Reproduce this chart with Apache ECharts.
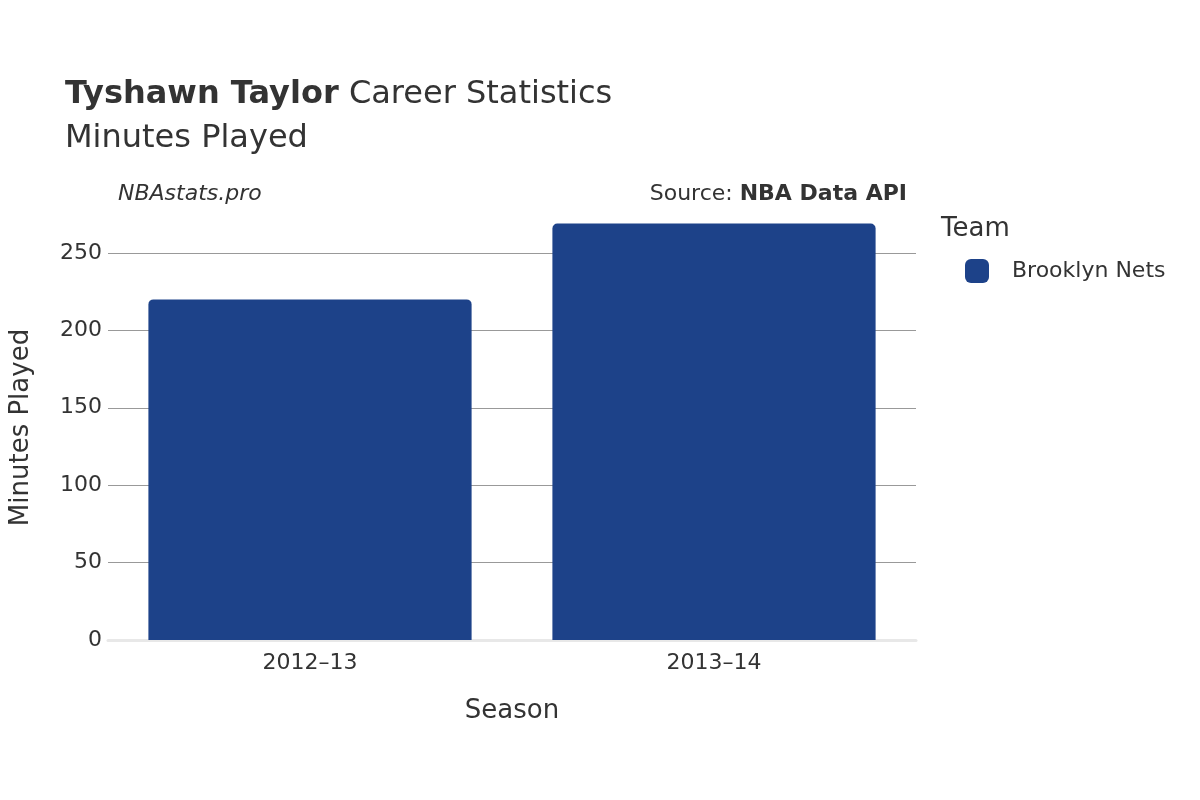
<!DOCTYPE html>
<html>
<head>
<meta charset="utf-8">
<script src="https://cdn.jsdelivr.net/npm/echarts@6/dist/echarts.min.js"></script>
<style>html,body{margin:0;padding:0;background:#fff}#main{width:1200px;height:800px}</style>
</head>
<body>
<div id="main"></div>
<script>
const seasons = ['2012–13', '2013–14'];
const minutes = [220, 269];
const teamName = 'Brooklyn Nets';

const chart = echarts.init(document.getElementById('main'));
const font = 'DejaVu Sans';

const option = {
  backgroundColor: '#fff',
  textStyle: { fontFamily: font },
  title: [
    {
      text: '{b|Tyshawn Taylor} Career Statistics\nMinutes Played',
      left: 60, top: 68,
      textStyle: {
        fontFamily: font, fontSize: 32, color: '#333', fontWeight: 'normal', lineHeight: 44,
        rich: { b: { fontFamily: font, fontSize: 32, fontWeight: 'bold', color: '#333' } }
      }
    },
    {
      text: 'NBAstats.pro', left: 113, top: 178,
      textStyle: { fontFamily: font, fontSize: 22, fontStyle: 'italic', fontWeight: 'normal', color: '#333' }
    },
    {
      text: 'Source: {b|NBA Data API}', right: 288, top: 178,
      textStyle: {
        fontFamily: font, fontSize: 22, fontWeight: 'normal', color: '#333',
        rich: { b: { fontFamily: font, fontSize: 22, fontWeight: 'bold', color: '#333' } }
      }
    },
    {
      text: 'Team', left: 936, top: 211,
      textStyle: { fontFamily: font, fontSize: 26, fontWeight: 'normal', color: '#333' }
    }
  ],
  legend: {
    left: 960, top: 254, itemWidth: 24, itemHeight: 24, itemGap: 10,
    icon: 'roundRect',
    textStyle: { fontFamily: font, fontSize: 22, color: '#333', padding: [0, 0, 0, 18] },
    data: [teamName]
  },
  grid: { left: 108, right: 284, top: 215, bottom: 160 },
  xAxis: {
    type: 'category', data: seasons,
    name: 'Season', nameLocation: 'middle', nameGap: 58,
    nameTextStyle: { fontFamily: font, fontSize: 26, color: '#333' },
    axisTick: { show: false },
    axisLine: { lineStyle: { color: '#e8e8e8', width: 3 } },
    axisLabel: { fontFamily: font, fontSize: 22, color: '#333', margin: 12 }
  },
  yAxis: {
    type: 'value', min: 0, max: 274.5, interval: 50,
    name: 'Minutes Played', nameLocation: 'middle', nameGap: 74,
    nameTextStyle: { fontFamily: font, fontSize: 26, color: '#333' },
    axisLabel: { fontFamily: font, fontSize: 22, color: '#333', margin: 6, showMaxLabel: false },
    splitLine: { lineStyle: { color: ['#999', '#999', '#999', '#999', '#999', '#999', 'rgba(0,0,0,0)'], width: 1 } }
  },
  series: [{
    name: teamName, type: 'bar', data: minutes,
    barCategoryGap: '20%',
    itemStyle: { color: '#1d4289', borderRadius: [5, 5, 0, 0] }
  }]
};
chart.setOption(option);
</script>
</body>
</html>
